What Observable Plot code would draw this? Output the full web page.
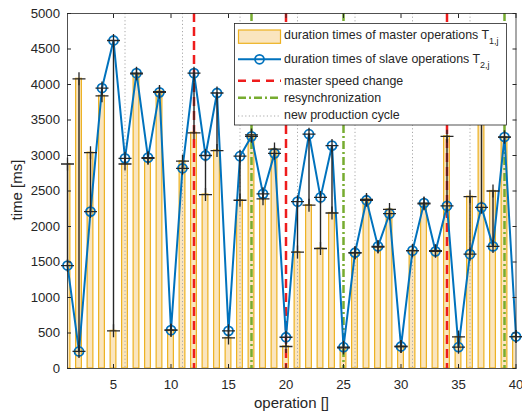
<!DOCTYPE html>
<html><head><meta charset="utf-8">
<script src="https://cdn.jsdelivr.net/npm/d3@7"></script>
<script src="https://cdn.jsdelivr.net/npm/@observablehq/plot@0.6"></script>
<style>body{margin:0;background:#fff;} svg{display:block;}</style>
</head><body><div id="chart"></div>
<script>
const operations = d3.range(1, 41);
const masterTimes = [2880, 4080, 3040, 3840, 530, 2880, 4150, 2960, 3900, 540,
  2920, 3320, 2450, 3070, 430, 2370, 3290, 2390, 3090, 310,
  1640, 2300, 1690, 2190, 290, 1630, 2380, 1710, 2240, 310,
  1660, 2320, 1660, 3270, 445, 2420, 3950, 2500, 3260, 450];
const slaveTimes = [1450, 240, 2210, 3950, 4620, 2960, 4160, 2970, 3890, 540,
  2820, 4160, 3000, 3880, 530, 2990, 3270, 2460, 3030, 440,
  2350, 3300, 2410, 3140, 300, 1630, 2370, 1720, 2180, 310,
  1660, 2330, 1650, 2290, 300, 1610, 2270, 1720, 3260, 450];
const masterSpeedChange = [12, 20, 34];
const resynchronization = [17, 25, 39];
const newProductionCycle = [6, 11, 16, 21, 26, 31, 36];
const xTicks = [5, 10, 15, 20, 25, 30, 35, 40];
const yTicks = [0, 500, 1000, 1500, 2000, 2500, 3000, 3500, 4000, 4500, 5000];

const data = operations.map((j, i) => ({j, t1: masterTimes[i], t2: slaveTimes[i]}));
const ink = "#262626";
const barFill = "#FAE5BF", barStroke = "#EDB120", blue = "#0072BD", red = "#EE1C1C", green = "#77AC30", gray = "#A8A8A8";
const plusSymbol = {draw(ctx, size) {const r = Math.sqrt(size / Math.PI); ctx.moveTo(-r, 0); ctx.lineTo(r, 0); ctx.moveTo(0, -r); ctx.lineTo(0, r);}};
const fmt = d => String(d);

const plot = Plot.plot({
  width: 522, height: 415,
  marginLeft: 67, marginRight: 6.5, marginTop: 13, marginBottom: 47,
  style: {fontFamily: "'Liberation Sans', Arial, sans-serif", fontSize: "13.2px", color: ink, background: "white"},
  x: {domain: [1, 40]},
  y: {domain: [0, 5000]},
  marks: [
    Plot.rect(data, {x1: d => d.j - 0.25, x2: d => d.j + 0.25, y1: d => 0, y2: "t1", fill: barFill, stroke: barStroke, strokeWidth: 1.2, clip: true}),
    Plot.ruleX(newProductionCycle, {stroke: gray, strokeWidth: 1, strokeDasharray: "1.2,2.4"}),
    Plot.ruleX(masterSpeedChange, {stroke: red, strokeWidth: 2.5, strokeDasharray: "9,5"}),
    Plot.ruleX(resynchronization, {stroke: green, strokeWidth: 2.5, strokeDasharray: "8,3,2,3"}),
    Plot.line(data, {x: "j", y: "t2", stroke: blue, strokeWidth: 2}),
    Plot.dot(data, {x: "j", y: "t2", r: 4.5, stroke: blue, strokeWidth: 1.8, fill: "none"}),
    Plot.ruleX(data, {x: "j", y1: "t1", y2: "t2", stroke: ink, strokeWidth: 1.4}),
    Plot.dot(data, {x: "j", y: "t1", symbol: plusSymbol, r: 6.5, stroke: ink, strokeWidth: 1.3, fill: "none"}),
    Plot.dot(data, {x: "j", y: "t2", symbol: plusSymbol, r: 6.5, stroke: ink, strokeWidth: 1.3, fill: "none"}),
    Plot.frame({stroke: ink, strokeWidth: 0.8}),
    Plot.axisX({ticks: xTicks, tickSize: 0, tickPadding: 11, tickFormat: fmt, label: null, fill: ink}),
    Plot.axisX({anchor: "bottom", ticks: xTicks, tickSize: -4, tickFormat: () => "", label: null, stroke: ink}),
    Plot.axisX({anchor: "top", ticks: xTicks, tickSize: -4, tickFormat: () => "", label: null, stroke: ink}),
    Plot.axisY({ticks: yTicks, tickSize: 0, tickPadding: 7.5, tickFormat: fmt, label: null, fill: ink}),
    Plot.axisY({anchor: "left", ticks: yTicks, tickSize: -4, tickFormat: () => "", label: null, stroke: ink}),
    Plot.axisY({anchor: "right", ticks: yTicks, tickSize: -4, tickFormat: () => "", label: null, stroke: ink})
  ]
});

const svg = d3.select(plot);
const font = "'Liberation Sans', Arial, sans-serif";
svg.append("text").attr("x", 291.5).attr("y", 408).attr("text-anchor", "middle")
  .attr("font-family", font).attr("font-size", 15).attr("fill", ink).text("operation []");
svg.append("text").attr("transform", "translate(22,190) rotate(-90)").attr("text-anchor", "middle")
  .attr("font-family", font).attr("font-size", 15).attr("fill", ink).text("time [ms]");

// legend
const lg = svg.append("g").attr("font-family", font).attr("font-size", 12.4).attr("fill", ink).attr("text-anchor", "start");
lg.append("rect").attr("x", 234.5).attr("y", 23.5).attr("width", 272).attr("height", 101.5)
  .attr("fill", "white").attr("stroke", ink).attr("stroke-width", 0.8);
lg.append("rect").attr("x", 238.5).attr("y", 30).attr("width", 42).attr("height", 13.3)
  .attr("fill", barFill).attr("stroke", barStroke).attr("stroke-width", 1.2);
lg.append("line").attr("x1", 238).attr("x2", 281).attr("y1", 59.3).attr("y2", 59.3).attr("stroke", blue).attr("stroke-width", 2);
lg.append("circle").attr("cx", 259.5).attr("cy", 59.3).attr("r", 4.5).attr("fill", "none").attr("stroke", blue).attr("stroke-width", 1.8);
lg.append("line").attr("x1", 238).attr("x2", 281).attr("y1", 80.7).attr("y2", 80.7).attr("stroke", red).attr("stroke-width", 2.5).attr("stroke-dasharray", "8,6");
lg.append("line").attr("x1", 238).attr("x2", 281).attr("y1", 97.7).attr("y2", 97.7).attr("stroke", green).attr("stroke-width", 2.5).attr("stroke-dasharray", "8,3,2,3");
lg.append("line").attr("x1", 238).attr("x2", 281).attr("y1", 116).attr("y2", 116).attr("stroke", gray).attr("stroke-width", 1).attr("stroke-dasharray", "1.2,2.4");
const t1 = lg.append("text").attr("x", 284).attr("y", 39.4);
t1.append("tspan").text("duration times of master operations T");
t1.append("tspan").attr("font-size", 9).attr("dy", 5).text("1,j");
const t2 = lg.append("text").attr("x", 284).attr("y", 63.4);
t2.append("tspan").text("duration times of slave operations T");
t2.append("tspan").attr("font-size", 9).attr("dy", 5).text("2,j");
lg.append("text").attr("x", 284).attr("y", 85.2).text("master speed change");
lg.append("text").attr("x", 284).attr("y", 102).text("resynchronization");
lg.append("text").attr("x", 284).attr("y", 119.4).text("new production cycle");

document.getElementById("chart").appendChild(plot);
</script>
</body></html>
